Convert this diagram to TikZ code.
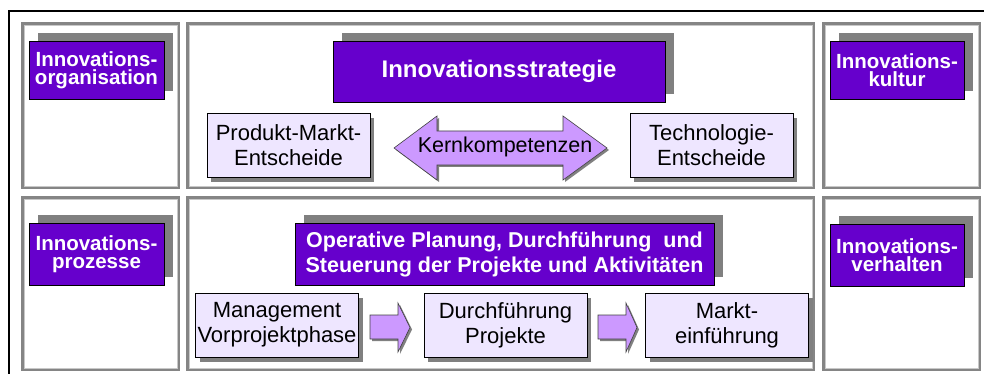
\documentclass[tikz,border=0pt]{standalone}
\usepackage{fontspec}
\setmainfont{Liberation Sans}
\usetikzlibrary{shadows}

\definecolor{tagpurple}{HTML}{6600CC}
\definecolor{paleviolet}{HTML}{EEE6FF}
\definecolor{arrowviolet}{HTML}{CC99FF}
\definecolor{shadowgray}{HTML}{808080}
\definecolor{panelgray}{HTML}{858585}
\definecolor{panelinner}{HTML}{C8C8C8}

\tikzset{
  frameline/.style={draw=black, line width=2pt},
  panel/.style={draw=panelgray, line width=2.4pt},
  panelhi/.style={draw=panelinner, line width=0.8pt},
  tag/.style={draw=black, line width=0.8pt, fill=tagpurple, text=white,
    font=\fontsize{20.5}{18.5}\selectfont\bfseries, align=center, inner sep=0pt,
    drop shadow={shadow xshift=9pt, shadow yshift=8pt, fill=shadowgray, opacity=1}},
  task/.style={draw=black, line width=0.8pt, fill=paleviolet,
    font=\fontsize{22}{25}\selectfont, align=center, inner sep=0pt,
    minimum width=163pt, minimum height=64pt,
    drop shadow={shadow xshift=4pt, shadow yshift=-5pt, fill=shadowgray, opacity=1}},
  blockarrow/.style={draw=black!75, line width=0.6pt, fill=arrowviolet,
    drop shadow={shadow xshift=2pt, shadow yshift=-2pt, fill=shadowgray, opacity=1}},
}

\begin{document}
\begin{tikzpicture}[x=1pt, y=-1pt]
  \useasboundingbox (0,0) rectangle (984,374);

  % outer frame (top and left edges)
  \draw[frameline] (9,374) -- (9,11) -- (984,11);

  % six grey panels
  \foreach \xa/\xb in {22.5/178.5, 187.5/813.5, 823.5/979.5} {
    \foreach \ya/\yb in {23.5/187.5, 197.5/369.5} {
      \draw[panel] (\xa,\ya) rectangle (\xb,\yb);
      \draw[panelhi] (\xa+1.6,\ya+1.6) rectangle (\xb-1.6,\yb-1.6);
    }
  }

  % headings
  \node[tag, minimum width=135pt, minimum height=58pt] (org) at (96.5,70) {Innovations-\\organisation};
  \node[tag, minimum width=134pt, minimum height=58pt] (kultur) at (897,70) {Innovations-\\kultur};
  \node[tag, minimum width=135pt, minimum height=62pt] (proz) at (96.5,254) {Innovations-\\prozesse};
  \node[tag, minimum width=134pt, minimum height=62pt] (verh) at (897,255) {Innovations-\\verhalten};
  \node[tag, minimum width=332pt, minimum height=61pt, font=\fontsize{24}{26}\selectfont\bfseries] (strat) at (499,71.5) {Innovationsstrategie};
  \node[tag, minimum width=419pt, minimum height=62pt, font=\fontsize{21.5}{25}\selectfont\bfseries] (oper) at (504.5,254) {Operative Planung, Durchführung\ \ und\\Steuerung der Projekte und Aktivitäten};

  % strategy level
  \node[task] (pm) at (288.5,145) {Produkt-Markt-\\Entscheide};
  \node[task] (tech) at (711.5,145) {Technologie-\\Entscheide};
  \path[blockarrow] (394,148) -- (437,116) -- (437,131) -- (563,131) -- (563,116)
    -- (607,148) -- (563,180) -- (563,165) -- (437,165) -- (437,180) -- cycle;
  \node[font=\fontsize{21.5}{25}\selectfont, inner sep=0pt] (kern) at (505,147) {Kernkompetenzen};

  % operative level
  \node[task] (vor) at (277,325) {Management\\Vorprojektphase};
  \node[task] (durch) at (505.5,325) {Durchführung\\Projekte};
  \node[task] (markt) at (727,325) {Markt-\\einführung};
  \path[blockarrow] (370,315) -- (398,315) -- (398,303) -- (410,327.5) -- (398,352)
    -- (398,339) -- (370,339) -- cycle;
  \path[blockarrow] (598,315) -- (626,315) -- (626,303) -- (637,327.5) -- (626,352)
    -- (626,339) -- (598,339) -- cycle;
\end{tikzpicture}
\end{document}
